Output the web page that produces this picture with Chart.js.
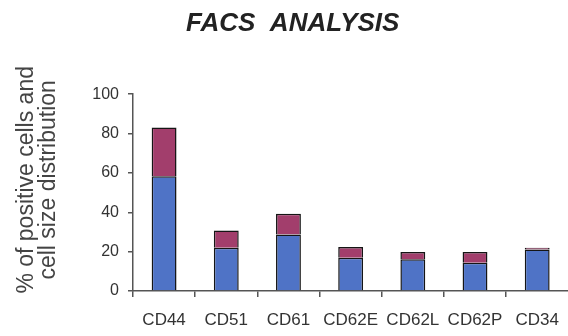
<!DOCTYPE html>
<html><head><meta charset="utf-8">
<script src="https://cdn.jsdelivr.net/npm/chart.js@4"></script>
<style>
html,body{margin:0;padding:0;background:#fff;overflow:hidden;}
#wrap{position:relative;width:572px;height:336px;}
</style></head>
<body><div id="wrap"><canvas id="c"></canvas></div>
<script>
const categories = ["CD44","CD51","CD61","CD62E","CD62L","CD62P","CD34"];
const positiveCells = [58.3, 22.0, 28.7, 16.9, 16.1, 14.4, 21.1];
const cellSizeDist = [24.8, 8.7, 10.5, 5.4, 3.7, 5.4, 0.9];
const yTicks = [0, 20, 40, 60, 80, 100];

const axisColor = '#555';
new Chart(document.getElementById('c'), {
  type: 'bar',
  data: {
    labels: categories,
    datasets: [
      {label:'positive', data: positiveCells, backgroundColor:'#4f73c6', borderColor:'#151515', borderWidth:1.5, barPercentage:0.4, categoryPercentage:1},
      {label:'size', data: cellSizeDist, backgroundColor:'#a23e6c', borderColor:'#151515', borderWidth:1.5, barPercentage:0.4, categoryPercentage:1}
    ]
  },
  options: {
    responsive:true, maintainAspectRatio:false, animation:false,
    layout:{padding:{left:0,right:1,top:0,bottom:0}},
    plugins:{
      legend:{display:false}, tooltip:{enabled:false},
      title:{display:true, text:'  FACS  ANALYSIS', color:'#222',
        font:{family:'Liberation Sans, Arial, sans-serif', size:26, weight:'bold', style:'italic', lineHeight:1.2},
        padding:{top:8, bottom:55}}
    },
    scales:{
      x:{stacked:true,
        grid:{display:true, offset:true, drawOnChartArea:false, drawTicks:true, tickLength:6, color:axisColor, lineWidth:1.5},
        border:{display:true, color:axisColor, width:1.5},
        ticks:{color:'#333', padding:13, maxRotation:0, font:{family:'Liberation Sans, Arial, sans-serif', size:17}},
        afterFit:(s)=>{s.height=45;}
      },
      y:{stacked:true, min:0, max:100,
        afterBuildTicks:(s)=>{s.ticks = yTicks.map(v=>({value:v}));},
        grid:{display:true, drawOnChartArea:false, drawTicks:true, tickLength:5, color:axisColor, lineWidth:1.5},
        border:{display:true, color:axisColor, width:1.5},
        ticks:{color:'#333', padding:9, font:{family:'Liberation Sans, Arial, sans-serif', size:16}},
        title:{display:true, text:['    % of positive cells and','    cell size distribution'], color:'#444',
          font:{family:'Liberation Sans, Arial, sans-serif', size:23, lineHeight:0.98}, padding:{top:15,bottom:0}},
        afterFit:(s)=>{s.width=133;}
      }
    }
  }
});
</script></body></html>
